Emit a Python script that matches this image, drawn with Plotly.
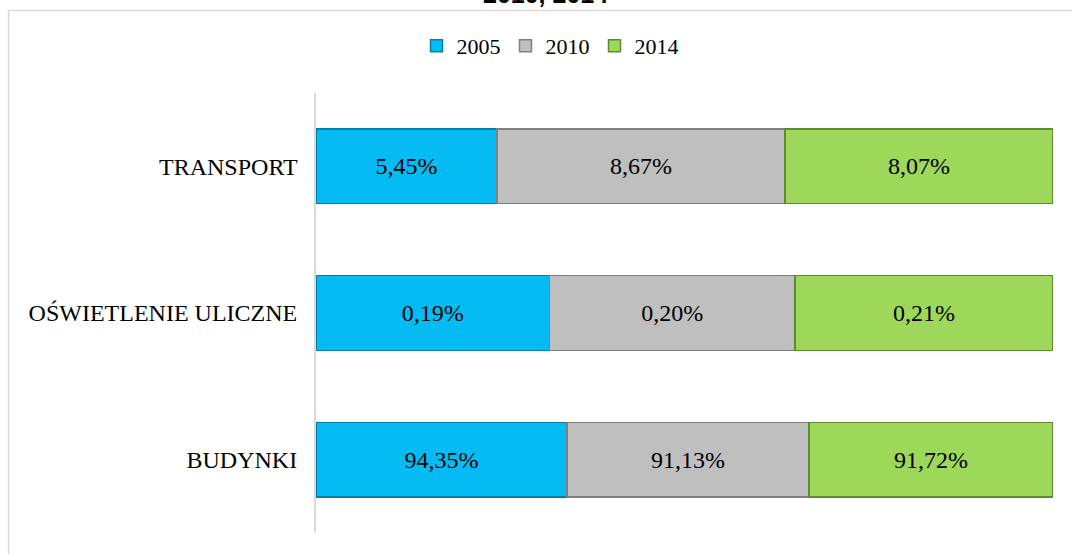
import plotly.graph_objects as go

categories = ["BUDYNKI", "OŚWIETLENIE ULICZNE", "TRANSPORT"]
years = ["2005", "2010", "2014"]
values = {
    "2005": [94.35, 0.19, 5.45],
    "2010": [91.13, 0.20, 8.67],
    "2014": [91.72, 0.21, 8.07],
}
colors = {"2005": "#05BBF3", "2010": "#BFBFBF", "2014": "#9DD85A"}
edge_colors = {"2005": "#037FA8", "2010": "#7F7F7F", "2014": "#5E8A30"}
title_text = "2010, 2014"

W, H = 1072, 554
ML, MR, MT, MB = 316, 19, 93, 21
pw, ph = W - ML - MR, H - MT - MB

def fmt(v):
    return f"{v:.2f}".replace(".", ",") + "%"

fig = go.Figure()
for y in years:
    fig.add_trace(go.Bar(
        y=categories, x=values[y], name=y, orientation="h",
        marker=dict(color=colors[y], line=dict(color=edge_colors[y], width=1.5)),
        text=[fmt(v) for v in values[y]], textposition="inside",
        insidetextanchor="middle", textangle=0,
        textfont=dict(family="Liberation Serif", size=24, color="black"),
        hoverinfo="skip",
    ))

fig.update_layout(
    width=W, height=H,
    margin=dict(l=ML, r=MR, t=MT, b=MB, autoexpand=False),
    barmode="stack", barnorm="percent", bargap=0.49,
    paper_bgcolor="white", plot_bgcolor="white",
    font=dict(family="Liberation Serif", size=24, color="black"),
    xaxis=dict(visible=False, range=[0, 100], fixedrange=True),
    yaxis=dict(showline=True, linecolor="#D9D9D9", linewidth=2, ticks="",
               showgrid=False, tickfont=dict(family="Liberation Serif", size=24),
               ticksuffix="  ", fixedrange=True),
    showlegend=True,
    legend=dict(orientation="h", x=(550 - ML) / pw, xanchor="center",
                y=(MT + ph - 46) / ph, yanchor="middle", traceorder="normal",
                font=dict(family="Liberation Serif", size=22),
                itemwidth=30, entrywidth=44, entrywidthmode="pixels",
                bgcolor="rgba(0,0,0,0)"),
    shapes=[dict(type="rect", xref="paper", yref="paper",
                 x0=(8.5 - ML) / pw, x1=2, y0=-1, y1=(MT + ph - 10.5) / ph,
                 line=dict(color="#D9D9D9", width=1.5), layer="below")],
    annotations=[dict(text=f"<b>{title_text}</b>", xref="paper", yref="paper",
                      x=(545 - ML) / pw, y=(MT + ph - 10) / ph, xanchor="center",
                      yanchor="bottom", showarrow=False,
                      font=dict(family="Liberation Sans", size=25, color="black"))],
)

fig.write_html("out.html", config={"displayModeBar": False})
